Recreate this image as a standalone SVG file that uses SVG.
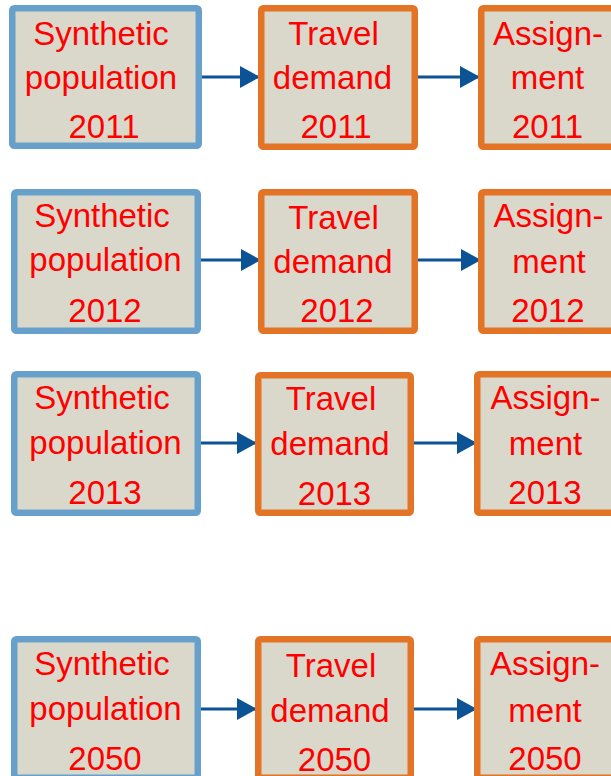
<svg xmlns="http://www.w3.org/2000/svg" width="611" height="776" viewBox="0 0 611 776">
<style>
.box{fill:#d9d8cb;stroke-width:6.5;stroke-linejoin:round}
.pop{stroke:#67a1cb}
.dem{stroke:#e37325}
.t{font-family:"Liberation Sans",Arial,sans-serif;font-size:33px;fill:#ff0000;text-anchor:middle}
.c{stroke:#0b5394;stroke-width:3;fill:none;marker-end:url(#ah)}
</style>
<defs>
<marker id="ah" markerUnits="userSpaceOnUse" markerWidth="20" markerHeight="22" refX="20" refY="11" orient="auto" viewBox="0 0 20 22">
<path d="M0,0 L20,11 L0,22 z" fill="#0b5394"/>
</marker>
</defs>
<rect width="611" height="776" fill="#ffffff"/>
<g id="connectors">
<line class="c" x1="202" y1="77" x2="260" y2="77"/>
<line class="c" x1="418" y1="77" x2="480" y2="77"/>
<line class="c" x1="201" y1="260" x2="261" y2="260"/>
<line class="c" x1="416" y1="260" x2="481" y2="260"/>
<line class="c" x1="201" y1="443" x2="257" y2="443"/>
<line class="c" x1="411" y1="443" x2="477" y2="443"/>
<line class="c" x1="201" y1="709" x2="257" y2="709"/>
<line class="c" x1="411" y1="709" x2="477" y2="709"/>
</g>
<g id="pop2011">
<rect class="box pop" x="12.25" y="8.25" width="186.5" height="137.5" rx="2"/>
<text class="t" x="101" y="45">Synthetic</text>
<text class="t" x="101" y="89">population</text>
<text class="t" x="104" y="138">2011</text>
</g>
<g id="dem2011">
<rect class="box dem" x="261.25" y="8.25" width="153.5" height="138.5" rx="2"/>
<text class="t" x="333.5" y="45">Travel</text>
<text class="t" x="332.5" y="89">demand</text>
<text class="t" x="336" y="138">2011</text>
</g>
<g id="asg2011">
<rect class="box dem" x="481.25" y="8.25" width="153.5" height="138.5" rx="2"/>
<text class="t" x="548" y="45">Assign-</text>
<text class="t" x="547.5" y="89">ment</text>
<text class="t" x="547.5" y="138">2011</text>
</g>
<g id="pop2012">
<rect class="box pop" x="14.25" y="192.25" width="183.5" height="138.5" rx="2"/>
<text class="t" x="102" y="227">Synthetic</text>
<text class="t" x="105.5" y="271">population</text>
<text class="t" x="105" y="322">2012</text>
</g>
<g id="dem2012">
<rect class="box dem" x="261.25" y="192.25" width="153.5" height="138.5" rx="2"/>
<text class="t" x="333.5" y="229">Travel</text>
<text class="t" x="333" y="273">demand</text>
<text class="t" x="337" y="322">2012</text>
</g>
<g id="asg2012">
<rect class="box dem" x="481.25" y="192.25" width="153.5" height="138.5" rx="2"/>
<text class="t" x="548.5" y="227">Assign-</text>
<text class="t" x="549" y="273">ment</text>
<text class="t" x="548" y="322">2012</text>
</g>
<g id="pop2013">
<rect class="box pop" x="14.25" y="374.25" width="183.5" height="138.5" rx="2"/>
<text class="t" x="102" y="409">Synthetic</text>
<text class="t" x="105.5" y="454">population</text>
<text class="t" x="105" y="504">2013</text>
</g>
<g id="dem2013">
<rect class="box dem" x="258.25" y="375.25" width="152.5" height="137.5" rx="2"/>
<text class="t" x="331" y="410">Travel</text>
<text class="t" x="330" y="455">demand</text>
<text class="t" x="334.5" y="505">2013</text>
</g>
<g id="asg2013">
<rect class="box dem" x="477.25" y="374.25" width="153.5" height="138.5" rx="2"/>
<text class="t" x="545.5" y="409">Assign-</text>
<text class="t" x="545.5" y="455">ment</text>
<text class="t" x="545" y="504">2013</text>
</g>
<g id="pop2050">
<rect class="box pop" x="14.25" y="639.25" width="183.5" height="138.5" rx="2"/>
<text class="t" x="102" y="675">Synthetic</text>
<text class="t" x="105.5" y="720">population</text>
<text class="t" x="105" y="770">2050</text>
</g>
<g id="dem2050">
<rect class="box dem" x="258.25" y="639.25" width="152.5" height="138.5" rx="2"/>
<text class="t" x="331" y="677">Travel</text>
<text class="t" x="330" y="722">demand</text>
<text class="t" x="334.5" y="771">2050</text>
</g>
<g id="asg2050">
<rect class="box dem" x="477.25" y="639.25" width="153.5" height="138.5" rx="2"/>
<text class="t" x="545" y="675">Assign-</text>
<text class="t" x="545" y="722">ment</text>
<text class="t" x="545" y="770">2050</text>
</g>
</svg>
